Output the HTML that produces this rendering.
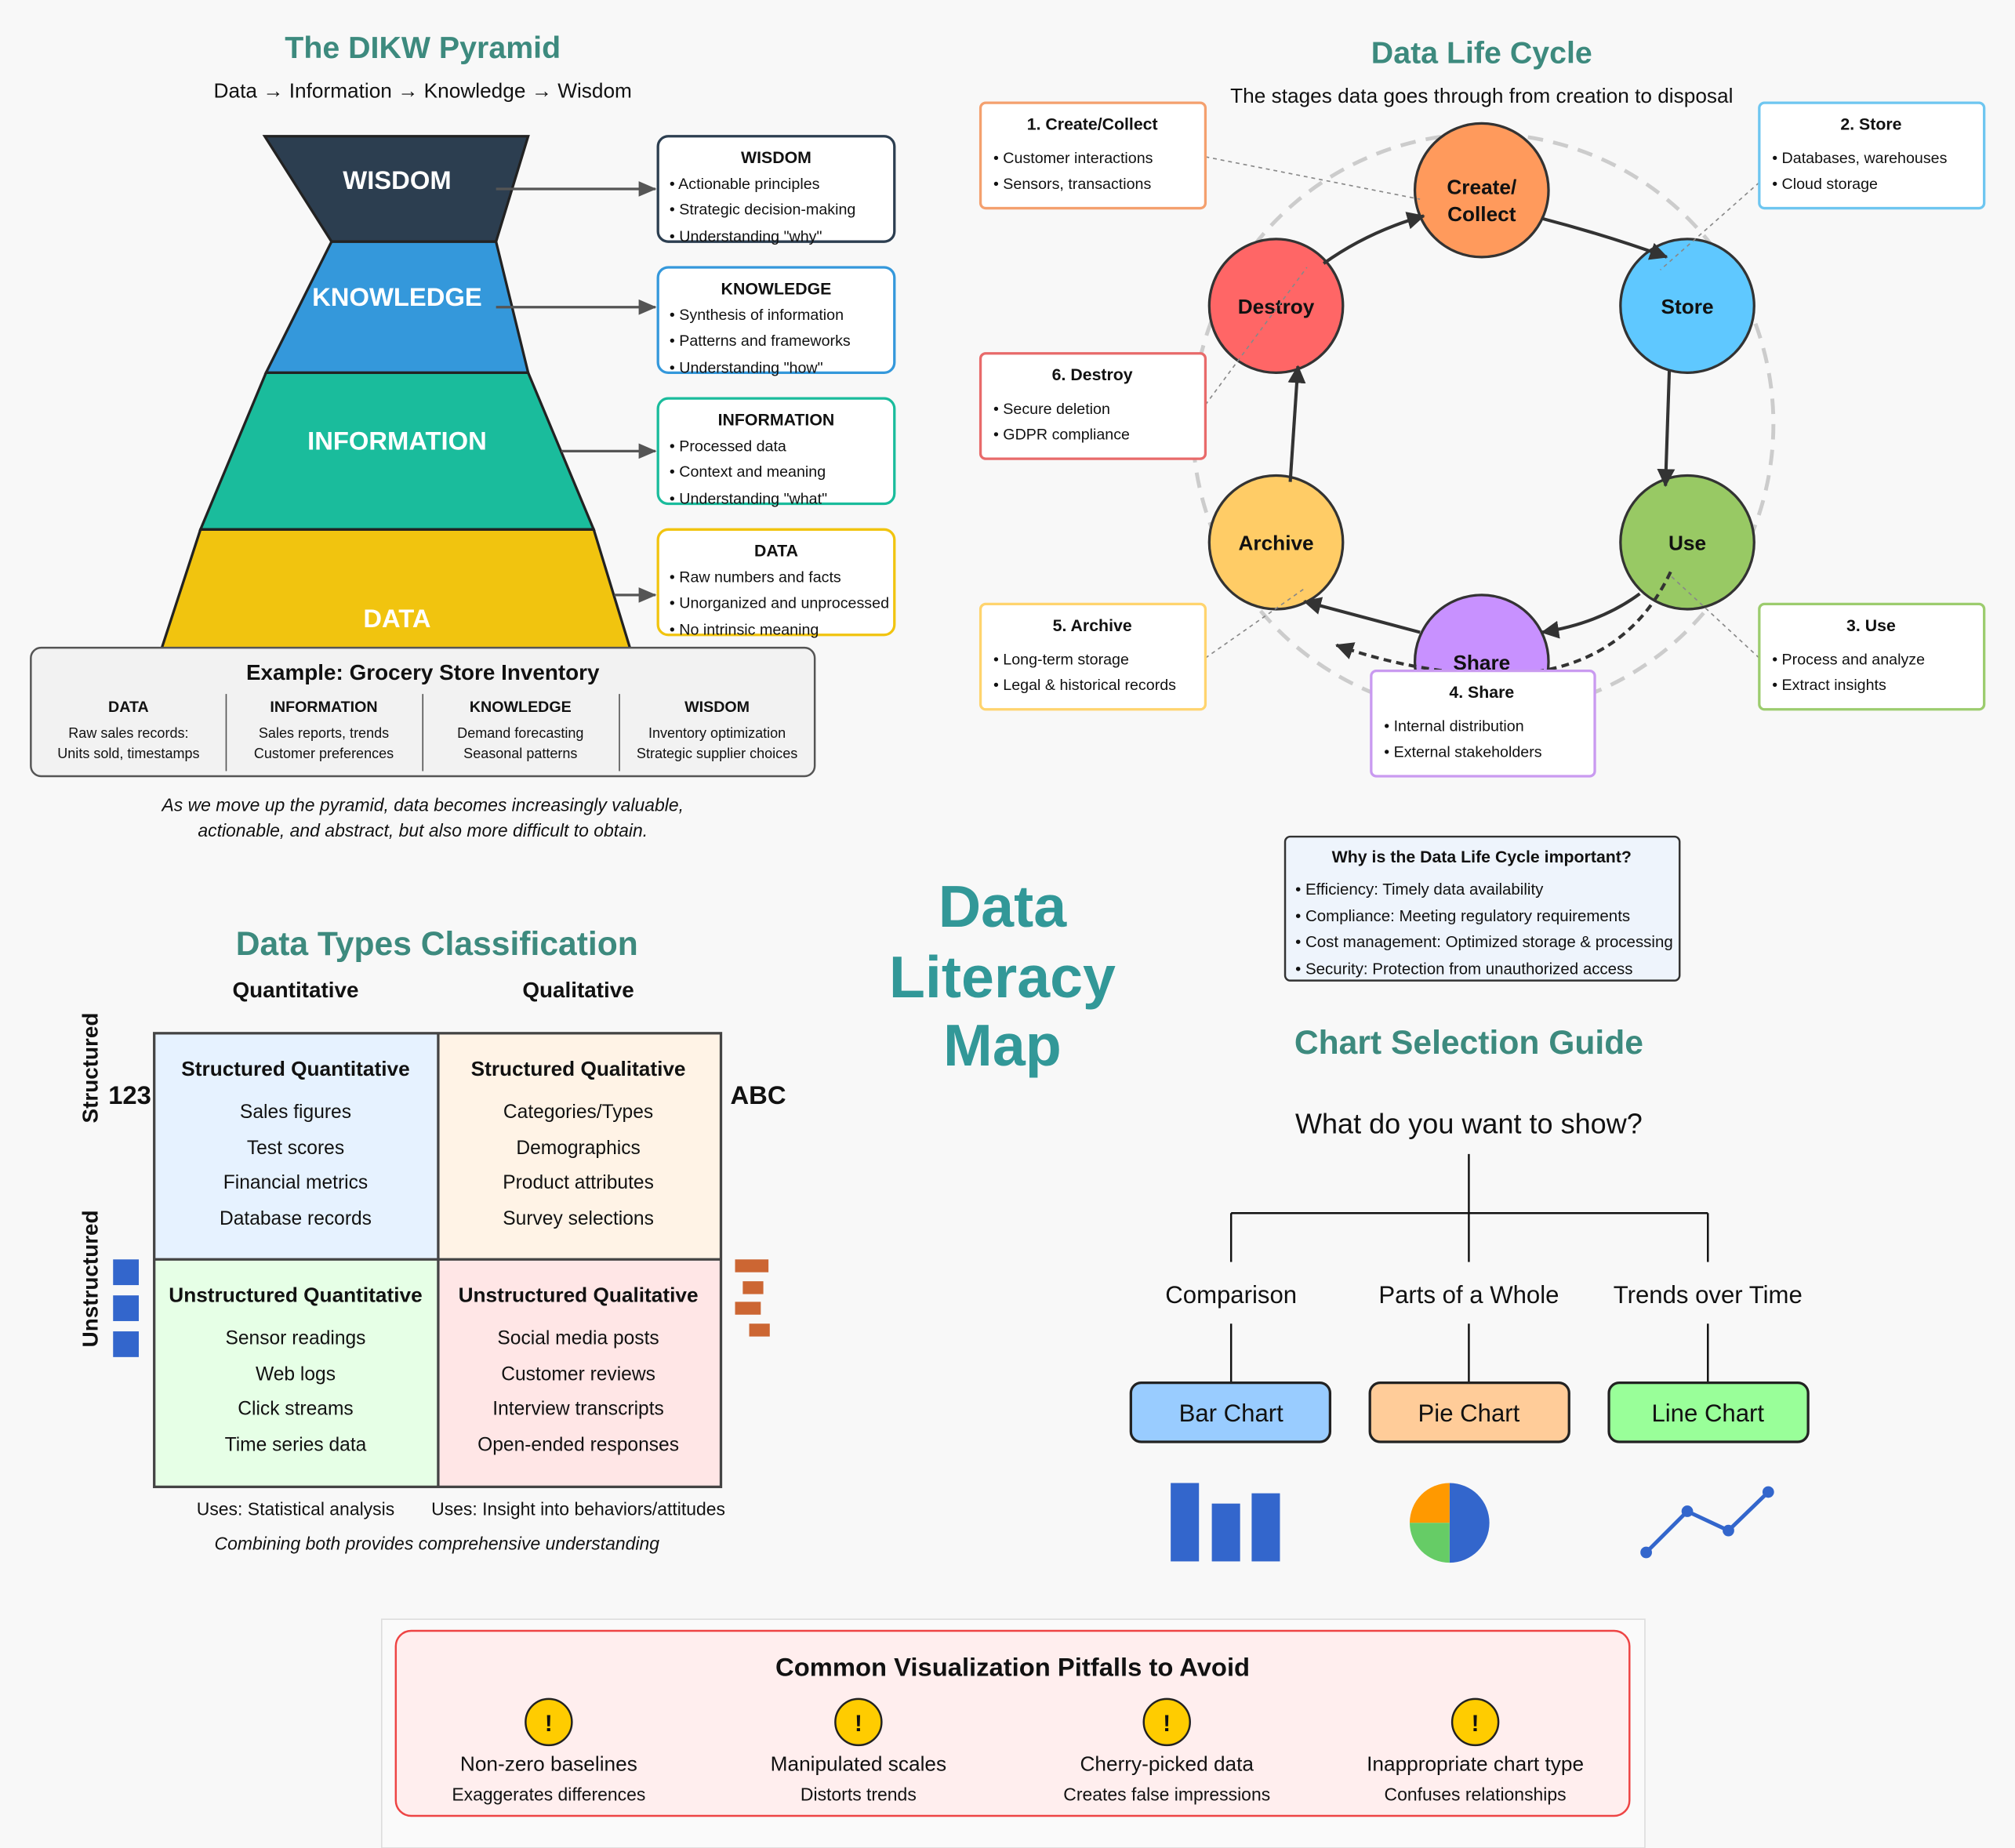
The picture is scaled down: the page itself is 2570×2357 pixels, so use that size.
<!DOCTYPE html>
<html><head><meta charset="utf-8"><style>
html,body{margin:0;padding:0;background:#f8f8f8;}
svg{display:block;font-family:"Liberation Sans",Arial,sans-serif;}
</style></head><body>
<svg width="2570" height="2357" viewBox="0 0 1568 1438" xmlns="http://www.w3.org/2000/svg">
<defs>
<marker id="ag" markerWidth="14" markerHeight="14" refX="13" refY="7" orient="auto" markerUnits="userSpaceOnUse" viewBox="0 0 14 14"><path d="M0,1 L14,7 L0,13 z" fill="#555"/></marker>
<marker id="ad" markerWidth="14" markerHeight="14" refX="13" refY="7" orient="auto" markerUnits="userSpaceOnUse" viewBox="0 0 14 14"><path d="M0,0 L14,7 L0,14 z" fill="#333"/></marker>
</defs>
<rect width="1568" height="1438" fill="#f8f8f8"/>

<!-- DIKW -->
<g text-anchor="middle">
<text x="329" y="45" font-size="24" font-weight="bold" fill="#3d8a7e">The DIKW Pyramid</text>
<text x="329" y="76" font-size="16" fill="#111">Data → Information → Knowledge → Wisdom</text>
</g>
<polygon points="206,106 411,106 386,188 258,188" fill="#2c3e50" stroke="#222" stroke-width="2"/>
<polygon points="258,188 386,188 411,290 207,290" fill="#3498db" stroke="#222" stroke-width="2"/>
<polygon points="207,290 411,290 462,412 156,412" fill="#1abc9c" stroke="#222" stroke-width="2"/>
<polygon points="156,412 462,412 492,510 124,510" fill="#f1c40f" stroke="#222" stroke-width="2"/>
<g text-anchor="middle" font-size="20" font-weight="bold" fill="#fff">
<text x="309" y="147">WISDOM</text>
<text x="309" y="238">KNOWLEDGE</text>
<text x="309" y="350">INFORMATION</text>
<text x="309" y="488">DATA</text>
</g>
<g stroke="#555" stroke-width="2" marker-end="url(#ag)">
<line x1="386" y1="147" x2="510" y2="147"/>
<line x1="386" y1="239" x2="510" y2="239"/>
<line x1="437" y1="351" x2="510" y2="351"/>
<line x1="478" y1="463" x2="510" y2="463"/>
</g>
<g font-size="12" fill="#111">
<rect x="512" y="106" width="184" height="82" rx="8" fill="#fff" stroke="#2c3e50" stroke-width="2"/>
<text x="604" y="127" text-anchor="middle" font-weight="bold" font-size="13">WISDOM</text>
<text x="521" y="147">• Actionable principles</text><text x="521" y="167">• Strategic decision-making</text><text x="521" y="188">• Understanding "why"</text>
<rect x="512" y="208" width="184" height="82" rx="8" fill="#fff" stroke="#3498db" stroke-width="2"/>
<text x="604" y="229" text-anchor="middle" font-weight="bold" font-size="13">KNOWLEDGE</text>
<text x="521" y="249">• Synthesis of information</text><text x="521" y="269">• Patterns and frameworks</text><text x="521" y="290">• Understanding "how"</text>
<rect x="512" y="310" width="184" height="82" rx="8" fill="#fff" stroke="#1abc9c" stroke-width="2"/>
<text x="604" y="331" text-anchor="middle" font-weight="bold" font-size="13">INFORMATION</text>
<text x="521" y="351">• Processed data</text><text x="521" y="371">• Context and meaning</text><text x="521" y="392">• Understanding "what"</text>
<rect x="512" y="412" width="184" height="82" rx="8" fill="#fff" stroke="#f1c40f" stroke-width="2"/>
<text x="604" y="433" text-anchor="middle" font-weight="bold" font-size="13">DATA</text>
<text x="521" y="453">• Raw numbers and facts</text><text x="521" y="473">• Unorganized and unprocessed</text><text x="521" y="494">• No intrinsic meaning</text>
</g>
<rect x="24" y="504" width="610" height="100" rx="8" fill="#f2f2f2" stroke="#555" stroke-width="1.5"/>
<g text-anchor="middle" fill="#111">
<text x="329" y="529" font-size="17" font-weight="bold">Example: Grocery Store Inventory</text>
<g font-size="12" font-weight="bold"><text x="100" y="554">DATA</text><text x="252" y="554">INFORMATION</text><text x="405" y="554">KNOWLEDGE</text><text x="558" y="554">WISDOM</text></g>
<g font-size="11"><text x="100" y="574">Raw sales records:</text><text x="100" y="590">Units sold, timestamps</text>
<text x="252" y="574">Sales reports, trends</text><text x="252" y="590">Customer preferences</text>
<text x="405" y="574">Demand forecasting</text><text x="405" y="590">Seasonal patterns</text>
<text x="558" y="574">Inventory optimization</text><text x="558" y="590">Strategic supplier choices</text></g>
<g stroke="#555" stroke-width="1"><line x1="176" y1="540" x2="176" y2="600"/><line x1="329" y1="540" x2="329" y2="600"/><line x1="482" y1="540" x2="482" y2="600"/></g>
<g font-size="14" font-style="italic"><text x="329" y="631">As we move up the pyramid, data becomes increasingly valuable,</text><text x="329" y="651">actionable, and abstract, but also more difficult to obtain.</text></g>
</g>

<!-- Life cycle -->
<g text-anchor="middle">
<text x="1153" y="49" font-size="24" font-weight="bold" fill="#3d8a7e">Data Life Cycle</text>
<text x="1153" y="80" font-size="16" fill="#111">The stages data goes through from creation to disposal</text>
</g>
<circle cx="1154" cy="330" r="226" fill="none" stroke="#ccc" stroke-width="3" stroke-dasharray="12,8"/>
<g stroke="#333" stroke-width="2">
<circle cx="1153" cy="148" r="52" fill="#ff9a5c"/>
<circle cx="1313" cy="238" r="52" fill="#5fc8ff"/>
<circle cx="1313" cy="422" r="52" fill="#98c964"/>
<circle cx="1153" cy="515" r="52" fill="#c891ff"/>
<circle cx="993" cy="422" r="52" fill="#ffcc66"/>
<circle cx="993" cy="238" r="52" fill="#ff6666"/>
</g>
<g text-anchor="middle" font-size="16" font-weight="bold" fill="#111">
<text x="1153" y="151">Create/</text><text x="1153" y="172">Collect</text>
<text x="1313" y="244">Store</text><text x="1313" y="428">Use</text>
<text x="1153" y="521">Share</text><text x="993" y="428">Archive</text><text x="993" y="244">Destroy</text>
</g>
<g stroke="#333" stroke-width="2.5" fill="none" marker-end="url(#ad)">
<path d="M1200,170 Q1250,183 1297,200"/>
<line x1="1299" y1="288" x2="1296" y2="378"/>
<path d="M1276,462 Q1245,485 1200,492"/>
<path d="M1105,492 Q1060,480 1015,468"/>
<line x1="1004" y1="375" x2="1010" y2="285"/>
<path d="M1030,205 Q1065,180 1108,168"/>
<path d="M1300,445 Q1260,530 1150,525 Q1090,520 1040,502" stroke-dasharray="6,4"/>
</g>
<g stroke="#888" stroke-width="1" stroke-dasharray="3,3">
<line x1="938" y1="122" x2="1105" y2="155"/>
<line x1="1369" y1="142" x2="1292" y2="210"/>
<line x1="938" y1="315" x2="1017" y2="208"/>
<line x1="938" y1="512" x2="1015" y2="458"/>
<line x1="1369" y1="512" x2="1300" y2="448"/>
</g>
<g font-size="12" fill="#111">
<rect x="763" y="80" width="175" height="82" rx="4" fill="#fff" stroke="#f4a06e" stroke-width="2"/>
<text x="850" y="101" text-anchor="middle" font-size="13" font-weight="bold">1. Create/Collect</text>
<text x="773" y="127">• Customer interactions</text><text x="773" y="147">• Sensors, transactions</text>
<rect x="1369" y="80" width="175" height="82" rx="4" fill="#fff" stroke="#6ec6f0" stroke-width="2"/>
<text x="1456" y="101" text-anchor="middle" font-size="13" font-weight="bold">2. Store</text>
<text x="1379" y="127">• Databases, warehouses</text><text x="1379" y="147">• Cloud storage</text>
<rect x="763" y="275" width="175" height="82" rx="4" fill="#fff" stroke="#e86a6a" stroke-width="2"/>
<text x="850" y="296" text-anchor="middle" font-size="13" font-weight="bold">6. Destroy</text>
<text x="773" y="322">• Secure deletion</text><text x="773" y="342">• GDPR compliance</text>
<rect x="763" y="470" width="175" height="82" rx="4" fill="#fff" stroke="#ffd46e" stroke-width="2"/>
<text x="850" y="491" text-anchor="middle" font-size="13" font-weight="bold">5. Archive</text>
<text x="773" y="517">• Long-term storage</text><text x="773" y="537">• Legal &amp; historical records</text>
<rect x="1369" y="470" width="175" height="82" rx="4" fill="#fff" stroke="#9ccc6e" stroke-width="2"/>
<text x="1456" y="491" text-anchor="middle" font-size="13" font-weight="bold">3. Use</text>
<text x="1379" y="517">• Process and analyze</text><text x="1379" y="537">• Extract insights</text>
<rect x="1067" y="522" width="174" height="82" rx="4" fill="#fff" stroke="#c99af0" stroke-width="2"/>
<text x="1153" y="543" text-anchor="middle" font-size="13" font-weight="bold">4. Share</text>
<text x="1077" y="569">• Internal distribution</text><text x="1077" y="589">• External stakeholders</text>
</g>
<rect x="1000" y="651" width="307" height="112" rx="4" fill="#eef4fc" stroke="#333" stroke-width="1.5"/>
<g font-size="12.5" fill="#111">
<text x="1153" y="671" text-anchor="middle" font-size="13" font-weight="bold">Why is the Data Life Cycle important?</text>
<text x="1008" y="696">• Efficiency: Timely data availability</text>
<text x="1008" y="717">• Compliance: Meeting regulatory requirements</text>
<text x="1008" y="737">• Cost management: Optimized storage &amp; processing</text>
<text x="1008" y="758">• Security: Protection from unauthorized access</text>
</g>

<!-- center title -->
<g text-anchor="middle" font-size="46" font-weight="bold" fill="#329898">
<text x="780" y="721">Data</text><text x="780" y="776">Literacy</text><text x="780" y="829">Map</text>
</g>

<!-- Data types -->
<g text-anchor="middle" fill="#111">
<text x="340" y="743" font-size="26" font-weight="bold" fill="#3d8a7e">Data Types Classification</text>
<text x="230" y="776" font-size="17" font-weight="bold">Quantitative</text>
<text x="450" y="776" font-size="17" font-weight="bold">Qualitative</text>
</g>
<rect x="120" y="804" width="221" height="176" fill="#e6f2ff"/>
<rect x="341" y="804" width="220" height="176" fill="#fff3e6"/>
<rect x="120" y="980" width="221" height="177" fill="#e6ffe6"/>
<rect x="341" y="980" width="220" height="177" fill="#ffe6e6"/>
<g stroke="#444" stroke-width="2" fill="none"><rect x="120" y="804" width="441" height="353"/><line x1="341" y1="804" x2="341" y2="1157"/><line x1="120" y1="980" x2="561" y2="980"/></g>
<g text-anchor="middle" fill="#111" font-size="15">
<text x="230" y="837" font-size="16" font-weight="bold">Structured Quantitative</text>
<text x="230" y="870">Sales figures</text><text x="230" y="898">Test scores</text><text x="230" y="925">Financial metrics</text><text x="230" y="953">Database records</text>
<text x="450" y="837" font-size="16" font-weight="bold">Structured Qualitative</text>
<text x="450" y="870">Categories/Types</text><text x="450" y="898">Demographics</text><text x="450" y="925">Product attributes</text><text x="450" y="953">Survey selections</text>
<text x="230" y="1013" font-size="16" font-weight="bold">Unstructured Quantitative</text>
<text x="230" y="1046">Sensor readings</text><text x="230" y="1074">Web logs</text><text x="230" y="1101">Click streams</text><text x="230" y="1129">Time series data</text>
<text x="450" y="1013" font-size="16" font-weight="bold">Unstructured Qualitative</text>
<text x="450" y="1046">Social media posts</text><text x="450" y="1074">Customer reviews</text><text x="450" y="1101">Interview transcripts</text><text x="450" y="1129">Open-ended responses</text>
<text x="76" y="831" font-size="17" font-weight="bold" transform="rotate(-90 76 831)">Structured</text>
<text x="76" y="995" font-size="17" font-weight="bold" transform="rotate(-90 76 995)">Unstructured</text>
<text x="101" y="859" font-size="20" font-weight="bold">123</text>
<text x="590" y="859" font-size="20" font-weight="bold">ABC</text>
<text x="230" y="1179" font-size="14">Uses: Statistical analysis</text>
<text x="450" y="1179" font-size="14">Uses: Insight into behaviors/attitudes</text>
<text x="340" y="1206" font-size="14" font-style="italic">Combining both provides comprehensive understanding</text>
</g>
<g fill="#3366cc"><rect x="88" y="980" width="20" height="20"/><rect x="88" y="1008" width="20" height="20"/><rect x="88" y="1036" width="20" height="20"/></g>
<g fill="#cc6633"><rect x="572" y="980" width="26" height="10"/><rect x="578" y="997" width="16" height="10"/><rect x="572" y="1013" width="20" height="10"/><rect x="583" y="1030" width="16" height="10"/></g>

<!-- Chart guide -->
<g text-anchor="middle" fill="#111">
<text x="1143" y="820" font-size="26" font-weight="bold" fill="#3d8a7e">Chart Selection Guide</text>
<text x="1143" y="882" font-size="22">What do you want to show?</text>
<text x="958" y="1014" font-size="19">Comparison</text>
<text x="1143" y="1014" font-size="19">Parts of a Whole</text>
<text x="1329" y="1014" font-size="19">Trends over Time</text>
</g>
<g stroke="#111" stroke-width="1.5" fill="none">
<line x1="1143" y1="898" x2="1143" y2="944"/><line x1="958" y1="944" x2="1329" y2="944"/>
<line x1="958" y1="944" x2="958" y2="982"/><line x1="1143" y1="944" x2="1143" y2="982"/><line x1="1329" y1="944" x2="1329" y2="982"/>
<line x1="958" y1="1030" x2="958" y2="1076"/><line x1="1143" y1="1030" x2="1143" y2="1076"/><line x1="1329" y1="1030" x2="1329" y2="1076"/>
</g>
<g stroke="#222" stroke-width="2">
<rect x="880" y="1076" width="155" height="46" rx="8" fill="#99ccff"/>
<rect x="1066" y="1076" width="155" height="46" rx="8" fill="#ffcc99"/>
<rect x="1252" y="1076" width="155" height="46" rx="8" fill="#99ff99"/>
</g>
<g text-anchor="middle" font-size="19" fill="#111"><text x="958" y="1106">Bar Chart</text><text x="1143" y="1106">Pie Chart</text><text x="1329" y="1106">Line Chart</text></g>
<g fill="#3366cc"><rect x="911" y="1154" width="22" height="61"/><rect x="943" y="1170" width="22" height="45"/><rect x="974" y="1162" width="22" height="53"/></g>
<path d="M1128,1185 L1128,1154 A31,31 0 0 1 1128,1216 Z" fill="#3366cc"/>
<path d="M1128,1185 L1097,1185 A31,31 0 0 1 1128,1154 Z" fill="#ff9900"/>
<path d="M1128,1185 L1128,1216 A31,31 0 0 1 1097,1185 Z" fill="#66cc66"/>
<polyline points="1281,1208 1313,1176 1345,1191 1376,1161" fill="none" stroke="#3366cc" stroke-width="3"/>
<g fill="#3366cc"><circle cx="1281" cy="1208" r="4.5"/><circle cx="1313" cy="1176" r="4.5"/><circle cx="1345" cy="1191" r="4.5"/><circle cx="1376" cy="1161" r="4.5"/></g>

<!-- Pitfalls -->
<rect x="297" y="1260" width="983" height="178" fill="#fafafa" stroke="#ddd" stroke-width="1"/>
<rect x="308" y="1269" width="960" height="144" rx="12" fill="#ffeeee" stroke="#ee4444" stroke-width="1.5"/>
<g text-anchor="middle" fill="#111">
<text x="788" y="1304" font-size="20" font-weight="bold">Common Visualization Pitfalls to Avoid</text>
<g stroke="#222" stroke-width="1.5" fill="#ffcc00"><circle cx="427" cy="1340" r="18"/><circle cx="668" cy="1340" r="18"/><circle cx="908" cy="1340" r="18"/><circle cx="1148" cy="1340" r="18"/></g>
<g font-size="18" font-weight="bold"><text x="427" y="1347">!</text><text x="668" y="1347">!</text><text x="908" y="1347">!</text><text x="1148" y="1347">!</text></g>
<g font-size="16"><text x="427" y="1378">Non-zero baselines</text><text x="668" y="1378">Manipulated scales</text><text x="908" y="1378">Cherry-picked data</text><text x="1148" y="1378">Inappropriate chart type</text></g>
<g font-size="14"><text x="427" y="1401">Exaggerates differences</text><text x="668" y="1401">Distorts trends</text><text x="908" y="1401">Creates false impressions</text><text x="1148" y="1401">Confuses relationships</text></g>
</g>
</svg>
</body></html>
